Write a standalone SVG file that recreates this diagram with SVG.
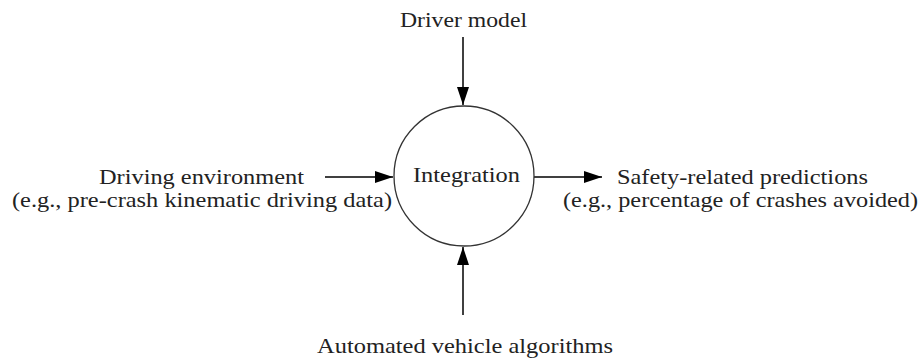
<svg xmlns="http://www.w3.org/2000/svg" width="923" height="360" viewBox="0 0 923 360">
<style>
text{font-family:"Liberation Serif","Times New Roman",serif;font-size:22px;fill:#222}
.c{text-anchor:middle}
.ln{stroke:#000;stroke-width:1.5;fill:none}
</style>
<defs>
<marker id="ah2" viewBox="0 0 18 12" refX="18" refY="6" markerWidth="18" markerHeight="12" markerUnits="userSpaceOnUse" orient="auto"><path d="M0,0 L18,6 L0,12 z" fill="#000"/></marker>
</defs>
<rect width="923" height="360" fill="#fff"/>
<g id="connectors">
<line class="ln" x1="463" y1="37" x2="463" y2="105" marker-end="url(#ah2)"/>
<line class="ln" x1="463" y1="315" x2="463" y2="247" marker-end="url(#ah2)"/>
<line class="ln" x1="325" y1="177" x2="393" y2="177" marker-end="url(#ah2)"/>
<line class="ln" x1="534" y1="177" x2="602" y2="177" marker-end="url(#ah2)"/>
</g>
<g id="integration">
<circle cx="464" cy="176" r="70" fill="none" stroke="#333" stroke-width="1.3"/>
<text class="c" x="466.5" y="182" textLength="107" lengthAdjust="spacingAndGlyphs">Integration</text>
</g>
<g id="driver-model"><text class="c" x="463.5" y="26.5" textLength="127" lengthAdjust="spacingAndGlyphs">Driver model</text></g>
<g id="driving-environment">
<text class="c" x="201.5" y="183.5" textLength="205" lengthAdjust="spacingAndGlyphs">Driving environment</text>
<text class="c" x="202" y="206.5" textLength="380" lengthAdjust="spacingAndGlyphs">(e.g., pre-crash kinematic driving data)</text>
</g>
<g id="safety-predictions">
<text class="c" x="742.5" y="183.5" textLength="251" lengthAdjust="spacingAndGlyphs">Safety-related predictions</text>
<text class="c" x="740.5" y="206.5" textLength="355" lengthAdjust="spacingAndGlyphs">(e.g., percentage of crashes avoided)</text>
</g>
<g id="automated-vehicle"><text class="c" x="465" y="353" textLength="296" lengthAdjust="spacingAndGlyphs">Automated vehicle algorithms</text></g>
</svg>
